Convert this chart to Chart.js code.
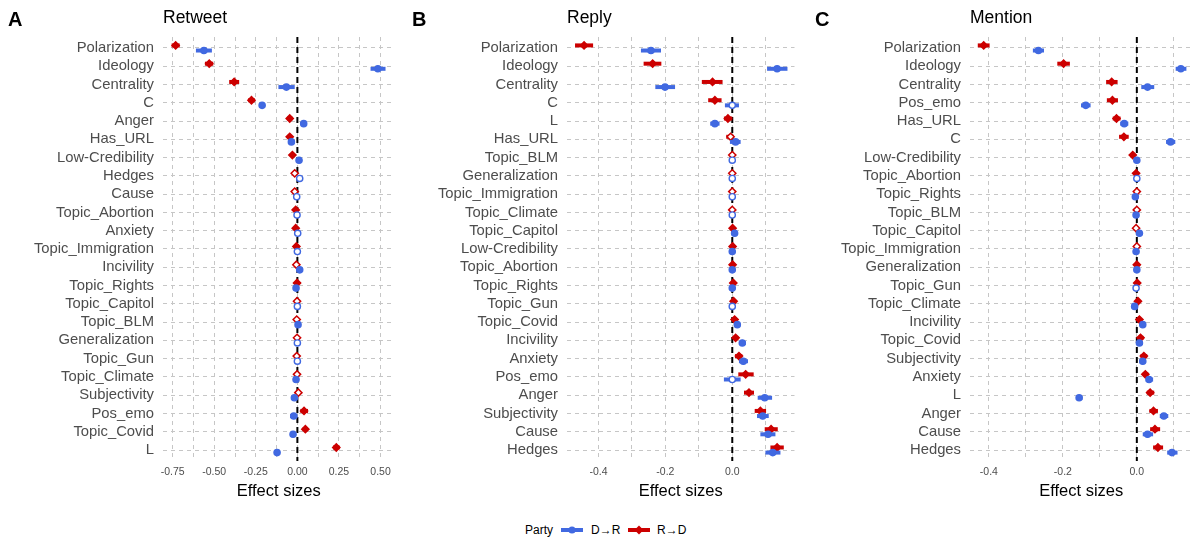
<!DOCTYPE html>
<html><head><meta charset="utf-8">
<script src="https://cdn.jsdelivr.net/npm/chart.js@4.4.1/dist/chart.umd.min.js"></script>
<style>
body{margin:0;background:#fff;width:1198px;height:542px;overflow:hidden;position:relative;font-family:'Liberation Sans',Arial,sans-serif}
canvas{position:absolute;top:0}
.t{position:absolute;line-height:1;white-space:nowrap;color:#000}
.lg{position:absolute;}
</style></head><body>
<canvas id="cA" width="400" height="505" style="left:0px"></canvas>
<canvas id="cB" width="400" height="505" style="left:400px"></canvas>
<canvas id="cC" width="398" height="505" style="left:800px"></canvas>

<div class="t" style="left:8px;top:9px;font-size:20px;font-weight:bold">A</div>
<div class="t" style="left:163px;top:9px;font-size:17.5px">Retweet</div>
<div class="t" style="left:412px;top:9px;font-size:20px;font-weight:bold">B</div>
<div class="t" style="left:567px;top:9px;font-size:17.5px">Reply</div>
<div class="t" style="left:815px;top:9px;font-size:20px;font-weight:bold">C</div>
<div class="t" style="left:970px;top:9px;font-size:17.5px">Mention</div>

<div class="t" style="left:525px;top:524px;font-size:12px">Party</div>
<svg class="lg" style="left:560px;top:525px" width="24" height="10"><line x1="1" y1="5" x2="23" y2="5" stroke="#4169e1" stroke-width="4"/><circle cx="12" cy="5" r="3.6" fill="#4169e1"/></svg>
<div class="t" style="left:591px;top:524px;font-size:12px">D→R</div>
<svg class="lg" style="left:627px;top:525px" width="24" height="10"><line x1="1" y1="5" x2="23" y2="5" stroke="#cc0000" stroke-width="4"/><polygon points="12,0.5 16.5,5 12,9.5 7.5,5" fill="#cc0000"/></svg>
<div class="t" style="left:657px;top:524px;font-size:12px">R→D</div>

<script>
// ---------- Panel A: Retweet ----------
const retweetCats = ['Polarization','Ideology','Centrality','C','Anger','Has_URL','Low-Credibility','Hedges','Cause','Topic_Abortion','Anxiety','Topic_Immigration','Incivility','Topic_Rights','Topic_Capitol','Topic_BLM','Generalization','Topic_Gun','Topic_Climate','Subjectivity','Pos_emo','Topic_Covid','L'];
const retweetRD    = [-0.732,-0.530,-0.380,-0.276,-0.046,-0.046,-0.030,-0.016,-0.016,-0.010,-0.010,-0.006,-0.006,-0.002,-0.002,-0.004,-0.002,-0.004,-0.002,0.006,0.040,0.048,0.234];
const retweetRDLo  = [-0.756,-0.556,-0.410,-0.296,-0.062,-0.058,-0.040,-0.030,-0.028,-0.018,-0.018,-0.012,-0.014,-0.009,-0.008,-0.010,-0.008,-0.010,-0.008,-0.004,0.018,0.032,0.214];
const retweetRDHi  = [-0.708,-0.506,-0.350,-0.256,-0.030,-0.034,-0.020,-0.002,-0.004,-0.002,-0.002,0.000,0.002,0.005,0.004,0.002,0.004,0.002,0.004,0.016,0.064,0.064,0.254];
const retweetRDSig = [1,1,1,1,1,1,1,0,0,1,1,1,0,1,0,0,0,0,0,0,1,1,1];
const retweetDR    = [-0.562,0.484,-0.066,-0.212,0.038,-0.036,0.010,0.014,-0.004,-0.002,0.002,0.000,0.014,-0.008,0.000,0.004,0.000,0.000,-0.008,-0.018,-0.022,-0.026,-0.122];
const retweetDRLo  = [-0.610,0.440,-0.114,-0.230,0.022,-0.046,0.002,0.000,-0.014,-0.008,-0.006,-0.006,0.006,-0.016,-0.006,-0.002,-0.006,-0.006,-0.016,-0.030,-0.044,-0.036,-0.132];
const retweetDRHi  = [-0.514,0.530,-0.016,-0.194,0.054,-0.026,0.018,0.028,0.006,0.004,0.010,0.006,0.022,0.000,0.006,0.010,0.006,0.006,0.000,-0.006,0.000,-0.016,-0.112];
const retweetDRSig = [1,1,1,1,1,1,1,0,0,0,0,0,1,1,0,1,0,0,1,1,1,1,1];
const retweetGrid  = [-0.75,-0.625,-0.5,-0.375,-0.25,-0.125,0,0.125,0.25,0.375,0.5];
const retweetTicks = ['-0.75','','-0.50','','-0.25','','0.00','','0.25','','0.50'];

// ---------- Panel B: Reply ----------
const replyCats = ['Polarization','Ideology','Centrality','C','L','Has_URL','Topic_BLM','Generalization','Topic_Immigration','Topic_Climate','Topic_Capitol','Low-Credibility','Topic_Abortion','Topic_Rights','Topic_Gun','Topic_Covid','Incivility','Anxiety','Pos_emo','Anger','Subjectivity','Cause','Hedges'];
const replyRD    = [-0.443,-0.238,-0.059,-0.052,-0.013,-0.005,0,0,0,0,0.001,0.001,0.001,0.003,0.004,0.007,0.010,0.020,0.040,0.050,0.084,0.116,0.134];
const replyRDLo  = [-0.470,-0.265,-0.091,-0.072,-0.025,-0.018,-0.003,-0.003,-0.003,-0.003,-0.003,-0.003,-0.003,-0.001,0.000,0.000,0.002,0.008,0.018,0.035,0.067,0.097,0.114];
const replyRDHi  = [-0.416,-0.212,-0.029,-0.032,0.000,0.005,0.003,0.003,0.003,0.003,0.005,0.005,0.005,0.007,0.008,0.014,0.018,0.030,0.064,0.065,0.101,0.136,0.154];
const replyRDSig = [1,1,1,1,1,0,0,0,0,0,1,1,1,1,1,1,1,1,1,1,1,1,1];
const replyDR    = [-0.243,0.134,-0.201,0.000,-0.052,0.010,0,0,0,0,0.007,0,0,0,0,0.015,0.030,0.033,0.000,0.097,0.091,0.107,0.121];
const replyDRLo  = [-0.273,0.104,-0.230,-0.022,-0.066,-0.007,-0.003,-0.003,-0.003,-0.003,0.002,-0.003,-0.003,-0.003,-0.003,0.007,0.020,0.020,-0.025,0.076,0.074,0.084,0.099];
const replyDRHi  = [-0.213,0.165,-0.171,0.020,-0.038,0.025,0.003,0.003,0.003,0.003,0.012,0.003,0.003,0.003,0.003,0.024,0.040,0.047,0.025,0.119,0.109,0.129,0.144];
const replyDRSig = [1,1,1,0,1,1,0,0,0,0,1,1,1,1,0,1,1,1,0,1,1,1,1];
const replyGrid  = [-0.4,-0.3,-0.2,-0.1,0,0.1];
const replyTicks = ['-0.4','','-0.2','','0.0',''];

// ---------- Panel C: Mention ----------
const mentionCats = ['Polarization','Ideology','Centrality','Pos_emo','Has_URL','C','Low-Credibility','Topic_Abortion','Topic_Rights','Topic_BLM','Topic_Capitol','Topic_Immigration','Generalization','Topic_Gun','Topic_Climate','Incivility','Topic_Covid','Subjectivity','Anxiety','L','Anger','Cause','Hedges'];
const mentionRD    = [-0.414,-0.198,-0.068,-0.066,-0.055,-0.035,-0.011,-0.002,0,0,-0.002,0,0,0.001,0.003,0.007,0.010,0.019,0.023,0.036,0.045,0.049,0.057];
const mentionRDLo  = [-0.430,-0.215,-0.083,-0.081,-0.065,-0.048,-0.016,-0.006,-0.003,-0.003,-0.005,-0.003,-0.004,-0.003,-0.001,0.003,0.003,0.010,0.016,0.027,0.034,0.036,0.044];
const mentionRDHi  = [-0.398,-0.181,-0.052,-0.051,-0.044,-0.022,-0.006,0.002,0.003,0.003,0.001,0.003,0.004,0.005,0.007,0.011,0.018,0.028,0.031,0.047,0.057,0.063,0.071];
const mentionRDSig = [1,1,1,1,1,1,1,1,0,0,0,0,1,1,1,1,1,1,1,1,1,1,1];
const mentionDR    = [-0.266,0.119,0.029,-0.138,-0.034,0.091,0,0,-0.004,-0.002,0.007,-0.002,0,-0.002,-0.006,0.016,0.007,0.016,0.033,-0.156,0.073,0.029,0.095];
const mentionDRLo  = [-0.281,0.105,0.012,-0.151,-0.045,0.079,-0.004,-0.004,-0.008,-0.006,0.003,-0.006,-0.004,-0.005,-0.010,0.012,0.000,0.007,0.024,-0.164,0.062,0.016,0.082];
const mentionDRHi  = [-0.251,0.134,0.047,-0.125,-0.023,0.104,0.004,0.004,0.000,0.002,0.011,0.002,0.004,0.002,-0.002,0.020,0.016,0.025,0.044,-0.147,0.085,0.044,0.110];
const mentionDRSig = [1,1,1,1,1,1,1,0,1,1,1,1,1,0,1,1,1,1,1,1,1,1,1];
const mentionGrid  = [-0.4,-0.3,-0.2,-0.1,0,0.1];
const mentionTicks = ['-0.4','','-0.2','','0.0',''];

const RED = '#cc0000', BLUE = '#4169e1';
const FONT = "'Liberation Sans', Arial, sans-serif";
const DODGE = 0.14;

const errorBars = {
  id: 'errorBars',
  beforeDatasetDraw(chart, args) {
    const ds = chart.data.datasets[args.index];
    if (!ds.errLo) return;
    const xs = chart.scales.x, ys = chart.scales.y, ctx = chart.ctx;
    ctx.save();
    ctx.strokeStyle = ds.borderColor;
    ctx.lineWidth = 4;
    ctx.lineCap = 'butt';
    ds.data.forEach((p, i) => {
      const y = ys.getPixelForValue(p.y);
      ctx.beginPath();
      ctx.moveTo(xs.getPixelForValue(ds.errLo[i]), y);
      ctx.lineTo(xs.getPixelForValue(ds.errHi[i]), y);
      ctx.stroke();
    });
    ctx.restore();
  }
};

function panel(id, cats, rd, rdLo, rdHi, rdSig, dr, drLo, drHi, drSig, grid, tickLabels, xMin, xMax, yWidth, padRight) {
  const n = cats.length;
  new Chart(document.getElementById(id), {
    type: 'scatter',
    data: {
      datasets: [
        {
          type: 'line', label: 'zero',
          data: [{x: 0, y: -0.6}, {x: 0, y: n - 0.4}],
          borderColor: '#000', borderWidth: 2, borderDash: [6, 4],
          pointRadius: 0, order: 5
        },
        {
          label: 'R→D',
          data: rd.map((v, i) => ({x: v, y: i - DODGE})),
          errLo: rdLo, errHi: rdHi,
          pointStyle: 'rectRot', pointRadius: 3.6,
          backgroundColor: rdSig.map(s => s ? RED : '#fff'),
          borderColor: RED, borderWidth: 1.5, order: 2
        },
        {
          label: 'D→R',
          data: dr.map((v, i) => ({x: v, y: i + DODGE})),
          errLo: drLo, errHi: drHi,
          pointStyle: 'circle', pointRadius: 3.1,
          backgroundColor: drSig.map(s => s ? BLUE : '#fff'),
          borderColor: BLUE, borderWidth: 1.4, order: 1
        }
      ]
    },
    options: {
      responsive: false, animation: false, events: [],
      layout: {padding: {left: 0, right: padRight, top: 37, bottom: 0}},
      plugins: {legend: {display: false}, tooltip: {enabled: false}},
      scales: {
        x: {
          type: 'linear', min: xMin, max: xMax,
          afterBuildTicks: ax => { ax.ticks = grid.map(v => ({value: v})); },
          afterFit: ax => { ax.height = 44; },
          grid: {color: '#c6c6c6', lineWidth: 1, drawTicks: false},
          border: {display: false, dash: [4, 4]},
          ticks: {
            autoSkip: false, maxRotation: 0, padding: 5,
            color: '#4d4d4d', font: {family: FONT, size: 10.5},
            callback: (v, i) => tickLabels[i]
          },
          title: {
            display: true, text: 'Effect sizes', color: '#000',
            font: {family: FONT, size: 16.5}, padding: {top: 0, bottom: 4}
          }
        },
        y: {
          type: 'linear', reverse: true, min: -0.6, max: n - 0.4,
          afterBuildTicks: ax => { ax.ticks = cats.map((c, i) => ({value: i})); },
          afterFit: ax => { ax.width = yWidth; },
          grid: {color: '#c6c6c6', lineWidth: 1, drawTicks: false},
          border: {display: false, dash: [4, 4]},
          ticks: {
            autoSkip: false, padding: 9,
            color: '#4d4d4d', font: {family: FONT, size: 14.8},
            callback: (v, i) => cats[i]
          }
        }
      }
    },
    plugins: [errorBars]
  });
}

panel('cA', retweetCats, retweetRD, retweetRDLo, retweetRDHi, retweetRDSig, retweetDR, retweetDRLo, retweetDRHi, retweetDRSig, retweetGrid, retweetTicks, -0.808, 0.584, 163, 5);
panel('cB', replyCats, replyRD, replyRDLo, replyRDHi, replyRDSig, replyDR, replyDRLo, replyDRHi, replyDRSig, replyGrid, replyTicks, -0.494, 0.186, 167, 4);
panel('cC', mentionCats, mentionRD, mentionRDLo, mentionRDHi, mentionRDSig, mentionDR, mentionDRLo, mentionDRHi, mentionDRSig, mentionGrid, mentionTicks, -0.451, 0.1505, 170, 1);
</script>
</body></html>
